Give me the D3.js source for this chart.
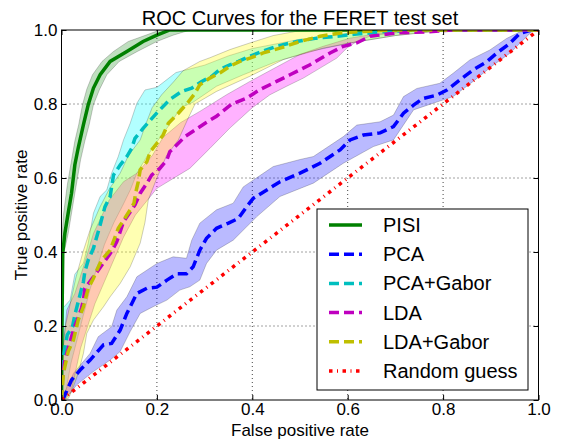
<!DOCTYPE html>
<html>
<head>
<meta charset="utf-8">
<script src="https://cdn.jsdelivr.net/npm/d3@7"></script>
<style>
  body { margin: 0; background: #fff; }
  text { font-family: "Liberation Sans", Arial, sans-serif; fill: #000; }
</style>
</head>
<body>
<div id="chart"></div>
<script>
// ROC curves, values: [false positive rate, true positive rate]
const names = ["PISI", "PCA", "PCA+Gabor", "LDA", "LDA+Gabor", "Random guess"];
const xTicks = [0, 0.2, 0.4, 0.6, 0.8, 1.0];
const yTicks = [0, 0.2, 0.4, 0.6, 0.8, 1.0];

const pisiCurve = [[0,0],[0.001,0.2],[0.0025,0.396],[0.007,0.45],[0.014,0.505],[0.021,0.559],[0.028,0.636],[0.035,0.681],[0.046,0.744],[0.056,0.798],[0.067,0.843],[0.081,0.879],[0.102,0.915],[0.137,0.942],[0.171,0.969],[0.2,0.986],[0.227,1.0],[1,1]];
const pisiUpper = [[0,0],[0,0.42],[0.004,0.5],[0.012,0.58],[0.02,0.64],[0.028,0.7],[0.036,0.744],[0.044,0.798],[0.053,0.84],[0.065,0.879],[0.085,0.915],[0.109,0.942],[0.14,0.969],[0.179,0.987],[0.206,1.0],[1,1]];
const pisiLower = [[0,0],[0.003,0.2],[0.005,0.396],[0.014,0.45],[0.028,0.559],[0.04,0.649],[0.049,0.7],[0.058,0.744],[0.067,0.798],[0.08,0.84],[0.095,0.879],[0.121,0.915],[0.159,0.942],[0.2,0.969],[0.234,0.986],[0.27,1.0],[1,1]];

const pcaCurve = [[0.0025,0],[0.021,0.054],[0.039,0.081],[0.06,0.108],[0.088,0.149],[0.105,0.153],[0.123,0.189],[0.137,0.234],[0.158,0.288],[0.179,0.302],[0.2,0.305],[0.221,0.324],[0.242,0.341],[0.262,0.341],[0.276,0.36],[0.29,0.405],[0.304,0.437],[0.325,0.464],[0.35,0.478],[0.371,0.491],[0.388,0.522],[0.402,0.545],[0.458,0.59],[0.5,0.613],[0.542,0.64],[0.584,0.676],[0.605,0.703],[0.633,0.716],[0.668,0.722],[0.696,0.739],[0.717,0.775],[0.738,0.797],[0.758,0.815],[0.787,0.824],[0.808,0.838],[0.835,0.865],[0.863,0.892],[0.891,0.914],[0.912,0.937],[0.94,0.964],[0.961,0.991],[0.985,1.0]];
const pcaUpper = [[0,0],[0.0025,0.009],[0.025,0.072],[0.06,0.126],[0.077,0.171],[0.105,0.198],[0.116,0.243],[0.137,0.279],[0.158,0.333],[0.2,0.369],[0.234,0.387],[0.262,0.383],[0.273,0.432],[0.29,0.478],[0.325,0.514],[0.36,0.532],[0.381,0.576],[0.444,0.631],[0.5,0.65],[0.528,0.658],[0.591,0.712],[0.619,0.743],[0.668,0.752],[0.696,0.77],[0.717,0.82],[0.745,0.842],[0.793,0.856],[0.821,0.883],[0.856,0.919],[0.898,0.946],[0.933,0.977],[0.961,0.995],[0.986,1.0]];
const pcaLower = [[0.007,0],[0.032,0.041],[0.067,0.077],[0.102,0.108],[0.123,0.131],[0.144,0.185],[0.165,0.234],[0.192,0.252],[0.221,0.27],[0.248,0.297],[0.269,0.306],[0.29,0.324],[0.304,0.369],[0.325,0.405],[0.36,0.432],[0.388,0.468],[0.409,0.495],[0.458,0.55],[0.528,0.586],[0.591,0.64],[0.654,0.685],[0.696,0.703],[0.738,0.784],[0.779,0.802],[0.821,0.82],[0.863,0.861],[0.905,0.905],[0.94,0.937],[0.975,0.982],[0.99,1.0]];

const pcaGaborCurve = [[0,0],[0.004,0.117],[0.012,0.176],[0.023,0.198],[0.028,0.23],[0.046,0.32],[0.049,0.347],[0.056,0.378],[0.067,0.41],[0.081,0.473],[0.091,0.522],[0.102,0.55],[0.109,0.608],[0.123,0.635],[0.137,0.658],[0.147,0.68],[0.154,0.707],[0.171,0.734],[0.2,0.776],[0.227,0.812],[0.252,0.834],[0.273,0.843],[0.294,0.861],[0.315,0.875],[0.332,0.893],[0.353,0.906],[0.371,0.915],[0.395,0.929],[0.42,0.942],[0.451,0.956],[0.493,0.969],[0.535,0.978],[0.577,0.983],[0.619,0.989],[0.682,0.996],[0.75,1.0],[1,1]];
const pcaGaborUpper = [[0,0],[0,0.12],[0.004,0.25],[0.018,0.27],[0.028,0.34],[0.046,0.37],[0.056,0.424],[0.067,0.505],[0.081,0.55],[0.095,0.568],[0.105,0.613],[0.119,0.658],[0.13,0.703],[0.144,0.748],[0.158,0.802],[0.175,0.838],[0.2,0.845],[0.24,0.885],[0.3,0.905],[0.35,0.93],[0.4,0.95],[0.5,0.975],[0.6,0.99],[0.7,1.0],[1,1]];
const pcaGaborLower = [[0,0],[0.01,0.03],[0.02,0.1],[0.03,0.15],[0.04,0.2],[0.05,0.25],[0.06,0.3],[0.075,0.36],[0.09,0.42],[0.11,0.48],[0.13,0.53],[0.145,0.57],[0.158,0.613],[0.18,0.66],[0.203,0.703],[0.227,0.745],[0.25,0.79],[0.276,0.805],[0.325,0.848],[0.381,0.879],[0.451,0.915],[0.521,0.942],[0.605,0.965],[0.7,0.985],[0.8,1.0],[1,1]];

const ldaCurve = [[0,0],[0,0.036],[0.007,0.108],[0.025,0.189],[0.042,0.248],[0.046,0.27],[0.049,0.302],[0.067,0.333],[0.105,0.401],[0.116,0.428],[0.13,0.482],[0.154,0.527],[0.165,0.559],[0.179,0.586],[0.189,0.608],[0.206,0.626],[0.221,0.649],[0.227,0.671],[0.245,0.694],[0.259,0.712],[0.28,0.73],[0.301,0.748],[0.325,0.767],[0.357,0.8],[0.388,0.816],[0.416,0.839],[0.451,0.861],[0.479,0.879],[0.521,0.906],[0.563,0.938],[0.591,0.956],[0.619,0.965],[0.647,0.983],[0.703,0.992],[0.766,0.995],[0.82,1.0],[1,1]];
const ldaUpper = [[0,0],[0,0.08],[0.004,0.144],[0.011,0.243],[0.028,0.288],[0.046,0.36],[0.067,0.45],[0.1,0.54],[0.13,0.59],[0.158,0.613],[0.19,0.66],[0.213,0.71],[0.25,0.75],[0.29,0.78],[0.346,0.825],[0.395,0.861],[0.451,0.9],[0.5,0.934],[0.549,0.956],[0.605,0.978],[0.647,0.987],[0.72,0.998],[0.8,1.0],[1,1]];
const ldaLower = [[0,0],[0.02,0.02],[0.03,0.08],[0.04,0.14],[0.055,0.2],[0.07,0.26],[0.09,0.32],[0.11,0.38],[0.13,0.44],[0.155,0.5],[0.18,0.54],[0.2,0.572],[0.269,0.626],[0.311,0.68],[0.353,0.735],[0.4,0.79],[0.437,0.825],[0.472,0.848],[0.507,0.87],[0.542,0.897],[0.577,0.924],[0.598,0.951],[0.619,0.969],[0.65,0.985],[0.72,0.995],[0.82,1.0],[1,1]];

const ldaGaborCurve = [[0,0],[0.004,0.072],[0.014,0.131],[0.025,0.162],[0.035,0.216],[0.046,0.252],[0.056,0.302],[0.067,0.329],[0.074,0.351],[0.084,0.378],[0.102,0.405],[0.119,0.464],[0.144,0.514],[0.152,0.532],[0.156,0.563],[0.161,0.59],[0.165,0.622],[0.179,0.644],[0.186,0.671],[0.2,0.694],[0.213,0.716],[0.224,0.748],[0.245,0.775],[0.266,0.806],[0.28,0.829],[0.29,0.852],[0.311,0.87],[0.332,0.884],[0.353,0.902],[0.374,0.915],[0.395,0.924],[0.423,0.938],[0.458,0.951],[0.5,0.969],[0.542,0.983],[0.584,0.992],[0.633,0.996],[0.7,1.0],[1,1]];
const ldaGaborUpper = [[0,0],[0,0.1],[0.008,0.2],[0.02,0.27],[0.03,0.33],[0.045,0.4],[0.06,0.46],[0.08,0.52],[0.1,0.57],[0.123,0.613],[0.14,0.66],[0.165,0.703],[0.178,0.75],[0.19,0.79],[0.21,0.825],[0.235,0.86],[0.255,0.89],[0.29,0.915],[0.311,0.925],[0.353,0.947],[0.395,0.965],[0.444,0.985],[0.49,0.996],[0.55,1.0],[1,1]];
const ldaGaborLower = [[0,0],[0.015,0.005],[0.025,0.036],[0.035,0.072],[0.046,0.126],[0.053,0.18],[0.067,0.216],[0.088,0.252],[0.102,0.279],[0.123,0.315],[0.144,0.36],[0.165,0.424],[0.175,0.48],[0.182,0.541],[0.2,0.6],[0.22,0.66],[0.245,0.703],[0.265,0.76],[0.28,0.8],[0.325,0.834],[0.395,0.875],[0.465,0.92],[0.549,0.951],[0.605,0.965],[0.7,0.985],[0.8,0.998],[1,1]];

const randomCurve = [[0,0],[1,1]];

const margin = {top: 30, right: 23.5, bottom: 42, left: 61.5};
const width = 477, height = 370;

const x = d3.scaleLinear().domain([0, 1]).range([0, width]);
const y = d3.scaleLinear().domain([0, 1]).range([height, 0]);

const svg = d3.select("#chart").append("svg")
    .attr("width", 562)
    .attr("height", 442);

svg.append("text")
    .attr("x", margin.left + width / 2)
    .attr("y", 25)
    .attr("text-anchor", "middle")
    .style("font-size", "20px")
    .text("ROC Curves for the FERET test set");

const g = svg.append("g")
    .attr("transform", "translate(" + margin.left + "," + margin.top + ")");

g.append("clipPath").attr("id", "plot-clip")
  .append("rect").attr("width", width).attr("height", height);

// dotted grid
g.append("g").selectAll("line.gx")
    .data(xTicks.slice(1, -1))
  .enter().append("line")
    .attr("x1", x).attr("x2", x)
    .attr("y1", 0).attr("y2", height)
    .attr("stroke", "#444").attr("stroke-dasharray", "1,3");
g.append("g").selectAll("line.gy")
    .data(yTicks.slice(1, -1))
  .enter().append("line")
    .attr("y1", y).attr("y2", y)
    .attr("x1", 0).attr("x2", width)
    .attr("stroke", "#444").attr("stroke-dasharray", "1,3");

const line = d3.line().x((d) => x(d[0])).y((d) => y(d[1]));

function band(upper, lower) {
  return line(upper.concat(lower.slice().reverse())) + "Z";
}

const bands = [
  {upper: pisiUpper, lower: pisiLower, fill: "#008000", opacity: 0.25},
  {upper: pcaUpper, lower: pcaLower, fill: "#0000ff", opacity: 0.27},
  {upper: pcaGaborUpper, lower: pcaGaborLower, fill: "#00ffff", opacity: 0.3},
  {upper: ldaUpper, lower: ldaLower, fill: "#ff00ff", opacity: 0.3},
  {upper: ldaGaborUpper, lower: ldaGaborLower, fill: "#ffff00", opacity: 0.3}
];

const plot = g.append("g").attr("clip-path", "url(#plot-clip)");

plot.append("g").selectAll("path")
    .data(bands)
  .enter().append("path")
    .attr("d", (d) => band(d.upper, d.lower))
    .attr("fill", (d) => d.fill)
    .attr("fill-opacity", (d) => d.opacity)
    .attr("stroke", "#000")
    .attr("stroke-opacity", 0.25)
    .attr("stroke-width", 0.8);

const curves = [
  {name: names[0], data: pisiCurve, color: "#008000", dash: null},
  {name: names[1], data: pcaCurve, color: "#0000ff", dash: "10,5"},
  {name: names[2], data: pcaGaborCurve, color: "#00bfbf", dash: "10,5"},
  {name: names[3], data: ldaCurve, color: "#bf00bf", dash: "10,5"},
  {name: names[4], data: ldaGaborCurve, color: "#bfbf00", dash: "10,5"},
  {name: names[5], data: randomCurve, color: "#ff0000", dash: "3.5,4.5,1,4.5"}
];

plot.append("g").selectAll("path")
    .data(curves)
  .enter().append("path")
    .attr("d", (d) => line(d.data))
    .attr("fill", "none")
    .attr("stroke", (d) => d.color)
    .attr("stroke-width", 3.5)
    .attr("stroke-dasharray", (d) => d.dash);

// axes, ticks pointing inwards on all four sides
const fmt = d3.format(".1f");
g.append("g")
    .attr("transform", "translate(0," + height + ")")
    .call(d3.axisBottom(x).tickValues(xTicks).tickFormat(fmt).tickSize(-5).tickPadding(3))
    .call((a) => a.select(".domain").remove());
g.append("g")
    .call(d3.axisLeft(y).tickValues(yTicks).tickFormat(fmt).tickSize(-5).tickPadding(4))
    .call((a) => a.select(".domain").remove());
g.append("g")
    .call(d3.axisTop(x).tickValues(xTicks).tickFormat("").tickSize(-5))
    .call((a) => a.select(".domain").remove());
g.append("g")
    .attr("transform", "translate(" + width + ",0)")
    .call(d3.axisRight(y).tickValues(yTicks).tickFormat("").tickSize(-5))
    .call((a) => a.select(".domain").remove());
g.selectAll(".tick text")
    .style("font-size", "17px")
    .style("font-family", "'Liberation Sans', Arial, sans-serif");

g.append("rect")
    .attr("width", width).attr("height", height)
    .attr("fill", "none").attr("stroke", "#000").attr("stroke-width", 1);

svg.append("text")
    .attr("x", margin.left + width / 2)
    .attr("y", 436)
    .attr("text-anchor", "middle")
    .style("font-size", "17px")
    .text("False positive rate");

svg.append("text")
    .attr("transform", "translate(27," + (margin.top + height / 2) + ") rotate(-90)")
    .attr("text-anchor", "middle")
    .style("font-size", "17px")
    .text("True positive rate");

// legend
const legend = svg.append("g").attr("transform", "translate(317,209)");
legend.append("rect")
    .attr("width", 211).attr("height", 181)
    .attr("fill", "#fff").attr("stroke", "#000").attr("stroke-width", 1);
const item = legend.selectAll("g.item")
    .data(curves)
  .enter().append("g")
    .attr("class", "item")
    .attr("transform", (d, i) => "translate(0," + (16 + i * 29.2) + ")");
item.append("line")
    .attr("x1", 12).attr("x2", 45)
    .attr("stroke", (d) => d.color)
    .attr("stroke-width", 3.5)
    .attr("stroke-dasharray", (d) => d.dash);
item.append("text")
    .attr("x", 66)
    .attr("y", 7)
    .style("font-size", "20px")
    .text((d) => d.name);
</script>
</body>
</html>
